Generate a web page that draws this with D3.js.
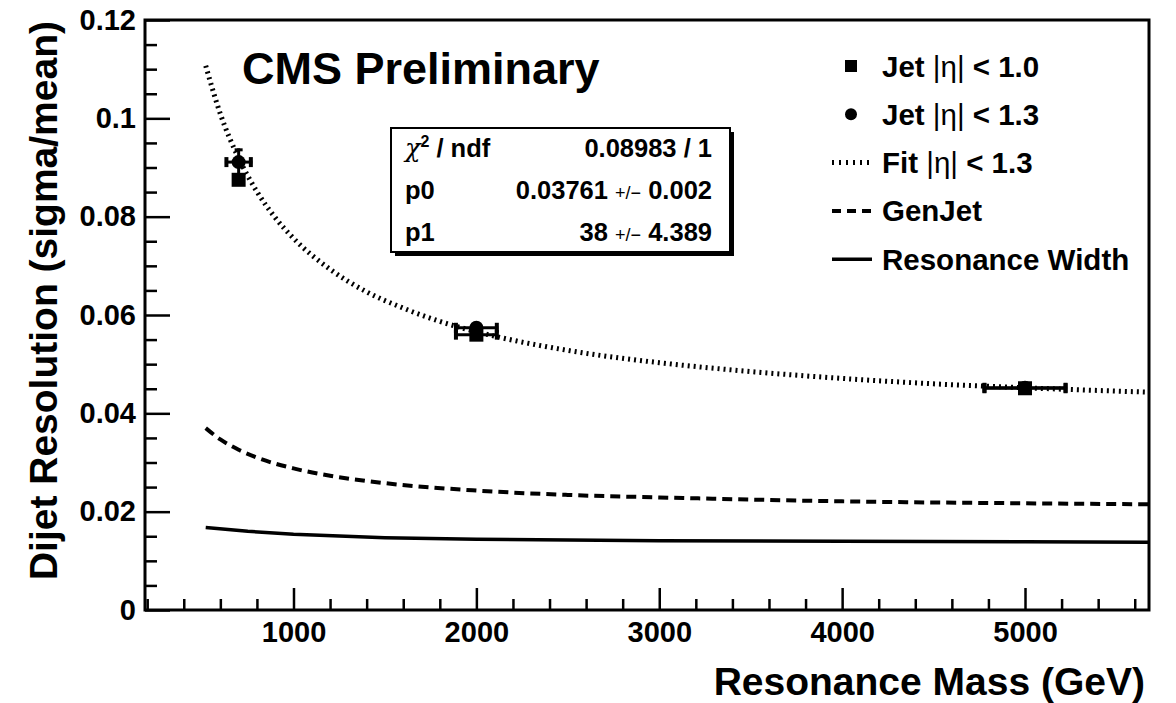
<!DOCTYPE html>
<html>
<head>
<meta charset="utf-8">
<script src="https://cdn.jsdelivr.net/npm/d3@7/dist/d3.min.js"></script>
<style>
  html, body { margin: 0; padding: 0; background: #fff; }
  svg { display: block; }
  text { font-family: "Liberation Sans", Arial, Helvetica, sans-serif; font-weight: bold; fill: #000; }
</style>
</head>
<body>
<div id="chart"></div>
<script>
// ---------------- data ----------------
const massPoints = [700, 2000, 5000];
const jet10Res  = [0.0875, 0.0560, 0.0451];
const jet10ErrX = [0, 120, 230];
const jet10ErrY = [0.0012, 0.0008, 0.0005];
const jet13Res  = [0.0911, 0.0574, 0.0452];
const jet13ErrX = [75, 120, 230];
const jet13ErrY = [0.0028, 0.0010, 0.0006];

const fitMass = [520, 600, 700, 800, 900, 1000, 1200, 1400, 1600, 1800, 2000, 2500, 3000, 3500, 4000, 4500, 5000, 5678];
const fitRes  = [0.1107, 0.1009, 0.0919, 0.0851, 0.0798, 0.0756, 0.0693, 0.0647, 0.0614, 0.0587, 0.0566, 0.0528, 0.0503, 0.0485, 0.0471, 0.0460, 0.0452, 0.0443];

const genMass = [520, 600, 700, 800, 1000, 1200, 1500, 2000, 2500, 3000, 4000, 5000, 5678];
const genRes  = [0.0370, 0.0347, 0.0326, 0.0310, 0.0288, 0.0273, 0.0258, 0.0243, 0.0234, 0.0229, 0.0221, 0.0217, 0.0215];

const widthMass = [520, 750, 1000, 1500, 2000, 3000, 4000, 5000, 5678];
const widthRes  = [0.0168, 0.0160, 0.0154, 0.0147, 0.0144, 0.0141, 0.0140, 0.0139, 0.0138];

const xTickValues = [1000, 2000, 3000, 4000, 5000];
const yTickValues = [0, 0.02, 0.04, 0.06, 0.08, 0.1, 0.12];
const xTickLabels = ["1000", "2000", "3000", "4000", "5000"];
const yTickLabels = ["0", "0.02", "0.04", "0.06", "0.08", "0.1", "0.12"];

const statsLabels = ["p0", "p1"];
const statsValues = ["0.03761", "38"];
const statsErrors = ["0.002", "4.389"];
const chi2Text = "0.08983 / 1";

// ---------------- layout ----------------
const W = 1176, H = 703;
const L = 145, R = 1149, T = 20, B = 610;

const svg = d3.select("#chart").append("svg")
  .attr("width", W).attr("height", H);
svg.append("rect").attr("width", W).attr("height", H).attr("fill", "#fff");

const x = d3.scaleLinear().domain([188, 5678]).range([L, R]);
const y = d3.scaleLinear().domain([0, 0.12]).range([B, T]);

svg.append("clipPath").attr("id", "plotclip")
  .append("rect").attr("x", L).attr("y", T).attr("width", R - L).attr("height", B - T);

// ---------------- curves ----------------
const plot = svg.append("g").attr("clip-path", "url(#plotclip)");

const lineSmooth = d3.line().x(d => x(d[0])).y(d => y(d[1])).curve(d3.curveMonotoneX);
const lineStraight = d3.line().x(d => x(d[0])).y(d => y(d[1]));

plot.append("path")
  .datum(widthMass.map((m, i) => [m, widthRes[i]]))
  .attr("d", lineStraight)
  .attr("fill", "none").attr("stroke", "#000").attr("stroke-width", 3.5);

plot.append("path")
  .datum(genMass.map((m, i) => [m, genRes[i]]))
  .attr("d", lineSmooth)
  .attr("fill", "none").attr("stroke", "#000").attr("stroke-width", 4)
  .attr("stroke-dasharray", "10,6");

plot.append("path")
  .datum(fitMass.map((m, i) => [m, fitRes[i]]))
  .attr("d", lineSmooth)
  .attr("fill", "none").attr("stroke", "#000").attr("stroke-width", 5)
  .attr("stroke-dasharray", "2,4");

// ---------------- points with error bars ----------------
function drawErrors(res, ex, ey) {
  const g = plot.append("g").attr("stroke", "#000").attr("stroke-width", 3);
  massPoints.forEach((m, i) => {
    const cx = x(m), cy = y(res[i]);
    if (ex[i] > 0) {
      const x0 = x(m - ex[i]), x1 = x(m + ex[i]);
      g.append("line").attr("x1", x0).attr("x2", x1).attr("y1", cy).attr("y2", cy);
      g.append("line").attr("x1", x0 + 1.5).attr("x2", x0 + 1.5).attr("y1", cy - 5).attr("y2", cy + 5).attr("stroke-width", 4);
      g.append("line").attr("x1", x1 - 1.5).attr("x2", x1 - 1.5).attr("y1", cy - 5).attr("y2", cy + 5).attr("stroke-width", 4);
    }
    if (ey[i] > 0) {
      const y0 = y(res[i] + ey[i]), y1 = y(res[i] - ey[i]);
      g.append("line").attr("x1", cx).attr("x2", cx).attr("y1", y0).attr("y2", y1);
      g.append("line").attr("x1", cx - 4).attr("x2", cx + 4).attr("y1", y0 + 1.5).attr("y2", y0 + 1.5).attr("stroke-width", 3);
    }
  });
}
drawErrors(jet13Res, jet13ErrX, jet13ErrY);
drawErrors(jet10Res, jet10ErrX, jet10ErrY);

plot.append("g").selectAll("circle")
  .data(massPoints.map((m, i) => [m, jet13Res[i]]))
  .join("circle")
  .attr("cx", d => x(d[0])).attr("cy", d => y(d[1])).attr("r", 7).attr("fill", "#000");

plot.append("g").selectAll("rect")
  .data(massPoints.map((m, i) => [m, jet10Res[i]]))
  .join("rect")
  .attr("x", d => x(d[0]) - 7).attr("y", d => y(d[1]) - 7)
  .attr("width", 14).attr("height", 14).attr("fill", "#000");

// ---------------- axes ----------------
const xMinor = d3.range(200, 5678, 200).filter(v => v % 1000 !== 0);
const yMinor = d3.range(0, 0.1201, 0.005).filter(v => Math.abs(v / 0.02 - Math.round(v / 0.02)) > 1e-6);

const xAxisMajor = d3.axisBottom(x).tickValues(xTickValues)
  .tickFormat((d, i) => xTickLabels[i]).tickSize(-22).tickSizeOuter(0).tickPadding(11);
const xAxisMinor = d3.axisBottom(x).tickValues(xMinor).tickFormat("").tickSize(-11).tickSizeOuter(0);
const yAxisMajor = d3.axisLeft(y).tickValues(yTickValues)
  .tickFormat((d, i) => yTickLabels[i]).tickSize(-25).tickSizeOuter(0).tickPadding(9);
const yAxisMinor = d3.axisLeft(y).tickValues(yMinor).tickFormat("").tickSize(-12).tickSizeOuter(0);

function styleAxis(g) {
  g.select(".domain").remove();
  g.selectAll(".tick line").attr("stroke", "#000").attr("stroke-width", 2.5);
  g.selectAll(".tick text")
    .style("font-family", '"Liberation Sans", Arial, Helvetica, sans-serif')
    .style("font-weight", "bold").style("font-size", "29px").attr("fill", "#000");
}

svg.append("g").attr("transform", `translate(0,${B})`).call(xAxisMinor).call(styleAxis);
svg.append("g").attr("transform", `translate(0,${B})`).call(xAxisMajor).call(styleAxis);
svg.append("g").attr("transform", `translate(${L},0)`).call(yAxisMinor).call(styleAxis);
svg.append("g").attr("transform", `translate(${L},0)`).call(yAxisMajor).call(styleAxis);

// frame
svg.append("rect").attr("x", L).attr("y", T).attr("width", R - L).attr("height", B - T)
  .attr("fill", "none").attr("stroke", "#000").attr("stroke-width", 3);

// axis titles
svg.append("text").attr("x", 1145).attr("y", 695).attr("text-anchor", "end")
  .style("font-size", "39px").text("Resonance Mass (GeV)");
svg.append("text").attr("transform", "translate(57,21) rotate(-90)").attr("text-anchor", "end")
  .style("font-size", "39px").text("Dijet Resolution (sigma/mean)");

// CMS Preliminary
svg.append("text").attr("x", 242).attr("y", 84).style("font-size", "45px").text("CMS Preliminary");

// ---------------- legend ----------------
const legendEntries = [
  { type: "square", label: "Jet ", cut: "1.0" },
  { type: "circle", label: "Jet ", cut: "1.3" },
  { type: "dotted", label: "Fit ", cut: "1.3" },
  { type: "dashed", label: "GenJet", cut: null },
  { type: "solid",  label: "Resonance Width", cut: null }
];
const lg = svg.append("g");
legendEntries.forEach((e, i) => {
  const cy = 66 + i * 48.3;
  if (e.type === "square") {
    lg.append("rect").attr("x", 845).attr("y", cy - 6).attr("width", 12).attr("height", 12).attr("fill", "#000");
  } else if (e.type === "circle") {
    lg.append("circle").attr("cx", 851).attr("cy", cy).attr("r", 6).attr("fill", "#000");
  } else {
    const ln = lg.append("line").attr("x1", 832).attr("x2", 872).attr("y1", cy).attr("y2", cy)
      .attr("stroke", "#000");
    if (e.type === "dotted") ln.attr("stroke-width", 5).attr("stroke-dasharray", "2,5");
    if (e.type === "dashed") ln.attr("stroke-width", 4).attr("stroke-dasharray", "9,6");
    if (e.type === "solid") ln.attr("stroke-width", 3.5);
  }
  const t = lg.append("text").attr("x", 882).attr("y", cy + 10.5).style("font-size", "29.5px");
  t.append("tspan").text(e.label);
  if (e.cut) {
    t.append("tspan").style("font-weight", "normal").text("|η|");
    t.append("tspan").text(" < " + e.cut);
  }
});

// ---------------- stats box ----------------
const bx = 391, by = 128, bw = 339, bh = 124;
svg.append("rect").attr("x", bx + 4).attr("y", by + 4).attr("width", bw).attr("height", bh).attr("fill", "#000");
svg.append("rect").attr("x", bx).attr("y", by).attr("width", bw).attr("height", bh)
  .attr("fill", "#fff").attr("stroke", "#000").attr("stroke-width", 2);

const rowY = [157, 199, 241];
const st = svg.append("g").style("font-size", "25.5px");
const chiT = st.append("text").attr("x", 405).attr("y", rowY[0]);
chiT.append("tspan").style("font-weight", "normal").style("font-family", '"DejaVu Serif", serif').style("font-style", "italic").text("χ");
chiT.append("tspan").attr("dy", -10).style("font-size", "16px").text("2");
chiT.append("tspan").attr("dy", 10).text(" / ndf");
st.append("text").attr("x", 712).attr("y", rowY[0]).attr("text-anchor", "end").text(chi2Text);
statsLabels.forEach((lab, i) => {
  st.append("text").attr("x", 405).attr("y", rowY[i + 1]).text(lab);
  const v = st.append("text").attr("x", 712).attr("y", rowY[i + 1]).attr("text-anchor", "end");
  v.append("tspan").text(statsValues[i] + " ");
  v.append("tspan").style("font-weight", "normal").style("font-size", "18px").text("+/−");
  v.append("tspan").text(" " + statsErrors[i]);
});
</script>
</body>
</html>
